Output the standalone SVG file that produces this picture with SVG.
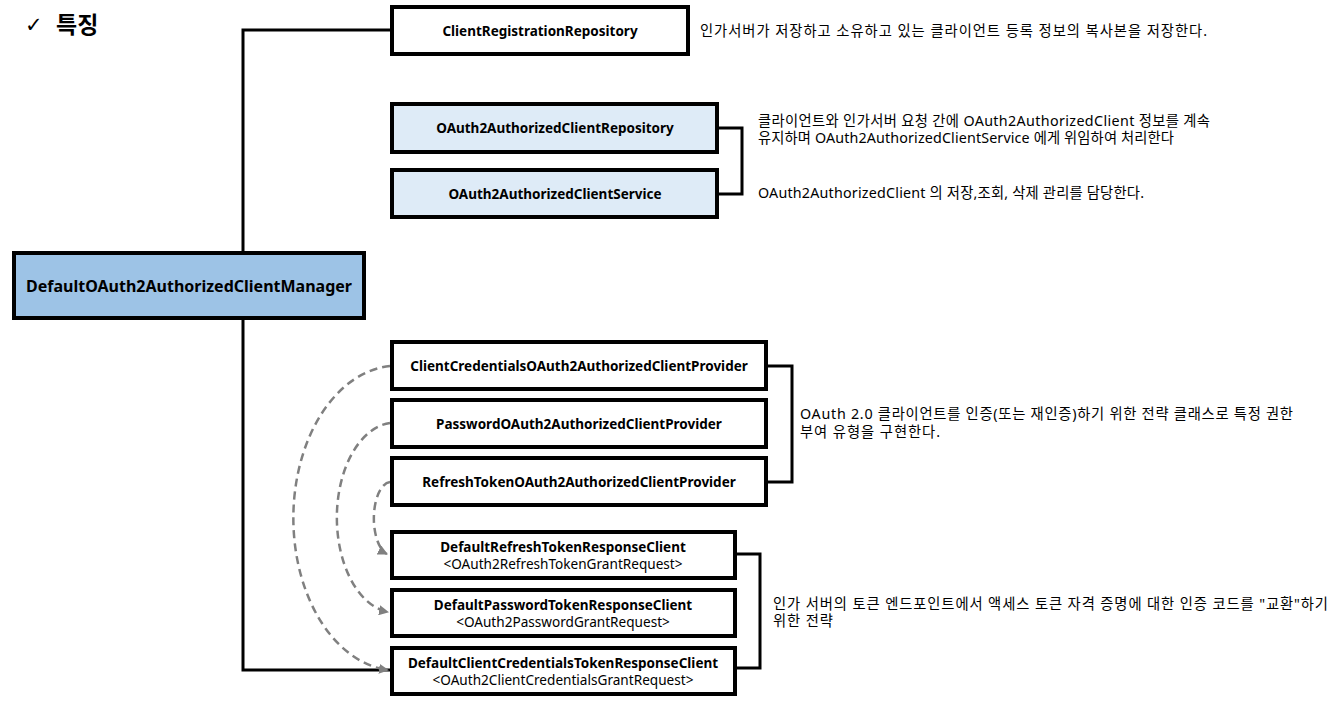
<svg xmlns="http://www.w3.org/2000/svg" width="1331" height="725" viewBox="0 0 1331 725">
<style>
text{font-family:"Noto Sans","Noto Sans CJK KR",sans-serif;fill:#000}
.box{fill:#fff;stroke:#000;stroke-width:4}
.lb{fill:#DEEBF7}
.main{fill:#9DC3E6}
.b{font-weight:bold;font-size:13.5px;text-anchor:middle}
.r{font-size:13.6px;text-anchor:middle}
.note{font-size:14.3px}
.conn{fill:none;stroke:#000;stroke-width:3}
.dash{fill:none;stroke:#808080;stroke-width:2.5;stroke-dasharray:8 5}
</style>
<defs>
<marker id="arr" viewBox="0 0 10 10" refX="9" refY="5" markerWidth="10" markerHeight="10" markerUnits="userSpaceOnUse" orient="auto">
<path d="M0,0 L10,5 L0,10 z" fill="#808080"/>
</marker>
</defs>
<g id="title">
<text x="25" y="32" style="font-family:'DejaVu Sans',sans-serif;font-size:21px">✓</text>
<text x="56" y="33" style="font-weight:bold;font-size:23px;font-family:'Noto Sans CJK KR',sans-serif">특징</text>
</g>
<g id="connectors">
<polyline class="conn" points="391,30 243,30 243,252"/>
<polyline class="conn" points="243,319 243,670 391,670"/>
<polyline class="conn" points="718,128 742,128 742,194 718,194"/>
<polyline class="conn" points="767,366 792,366 792,482 767,482"/>
<polyline class="conn" points="736,554 760,554 760,668 736,668"/>
<path class="dash" d="M390,366 A104,152.5 0 0 0 388,670" marker-end="url(#arr)"/>
<path class="dash" d="M390,423 A58,95 0 0 0 388,612" marker-end="url(#arr)"/>
<path class="dash" d="M390,482 A17,36.5 0 0 0 387,554" marker-end="url(#arr)"/>
</g>
<g id="manager">
<rect class="box main" x="14" y="253" width="350" height="65"/>
<text x="189" y="292" style="font-weight:bold;font-size:16px;text-anchor:middle">DefaultOAuth2AuthorizedClientManager</text>
</g>
<g id="clientRegistrationRepository">
<rect class="box" x="392" y="7" width="296" height="47"/>
<text class="b" x="540" y="36">ClientRegistrationRepository</text>
<text class="note" x="700" y="36" textLength="507" lengthAdjust="spacing">인가서버가 저장하고 소유하고 있는 클라이언트 등록 정보의 복사본을 저장한다.</text>
</g>
<g id="authorizedClientRepository">
<rect class="box lb" x="392" y="104" width="325" height="48"/>
<text class="b" x="555" y="133">OAuth2AuthorizedClientRepository</text>
</g>
<g id="authorizedClientService">
<rect class="box lb" x="392" y="170" width="325" height="47"/>
<text class="b" x="555" y="199">OAuth2AuthorizedClientService</text>
</g>
<g id="noteRepoService">
<text class="note" x="758" y="126" textLength="452" lengthAdjust="spacing">클라이언트와 인가서버 요청 간에 OAuth2AuthorizedClient 정보를 계속</text>
<text class="note" x="758" y="143" textLength="416" lengthAdjust="spacing">유지하며 OAuth2AuthorizedClientService 에게 위임하여 처리한다</text>
<text class="note" x="758" y="198" textLength="386" lengthAdjust="spacing">OAuth2AuthorizedClient 의 저장,조회, 삭제 관리를 담당한다.</text>
</g>
<g id="clientCredentialsProvider">
<rect class="box" x="392" y="342" width="374" height="47"/>
<text class="b" x="579" y="371">ClientCredentialsOAuth2AuthorizedClientProvider</text>
</g>
<g id="passwordProvider">
<rect class="box" x="392" y="400" width="374" height="47"/>
<text class="b" x="579" y="429">PasswordOAuth2AuthorizedClientProvider</text>
</g>
<g id="refreshTokenProvider">
<rect class="box" x="392" y="458" width="374" height="47"/>
<text class="b" x="579" y="487">RefreshTokenOAuth2AuthorizedClientProvider</text>
</g>
<g id="noteProviders">
<text class="note" x="800" y="419" textLength="493" lengthAdjust="spacing">OAuth 2.0 클라이언트를 인증(또는 재인증)하기 위한 전략 클래스로 특정 권한</text>
<text class="note" x="800" y="437" textLength="140" lengthAdjust="spacing">부여 유형을 구현한다.</text>
</g>
<g id="refreshTokenResponseClient">
<rect class="box" x="392" y="532" width="343" height="46"/>
<text class="b" x="563" y="552">DefaultRefreshTokenResponseClient</text>
<text class="r" x="563" y="569">&lt;OAuth2RefreshTokenGrantRequest&gt;</text>
</g>
<g id="passwordTokenResponseClient">
<rect class="box" x="392" y="590" width="343" height="46"/>
<text class="b" x="563" y="610">DefaultPasswordTokenResponseClient</text>
<text class="r" x="563" y="627">&lt;OAuth2PasswordGrantRequest&gt;</text>
</g>
<g id="clientCredentialsTokenResponseClient">
<rect class="box" x="392" y="648" width="343" height="46"/>
<text class="b" x="563" y="668">DefaultClientCredentialsTokenResponseClient</text>
<text class="r" x="563" y="685">&lt;OAuth2ClientCredentialsGrantRequest&gt;</text>
</g>
<g id="noteResponseClients">
<text class="note" x="773" y="609" textLength="555" lengthAdjust="spacing">인가 서버의 토큰 엔드포인트에서 액세스 토큰 자격 증명에 대한 인증 코드를 "교환"하기</text>
<text class="note" x="773" y="626" textLength="60" lengthAdjust="spacing">위한 전략</text>
</g>
</svg>
